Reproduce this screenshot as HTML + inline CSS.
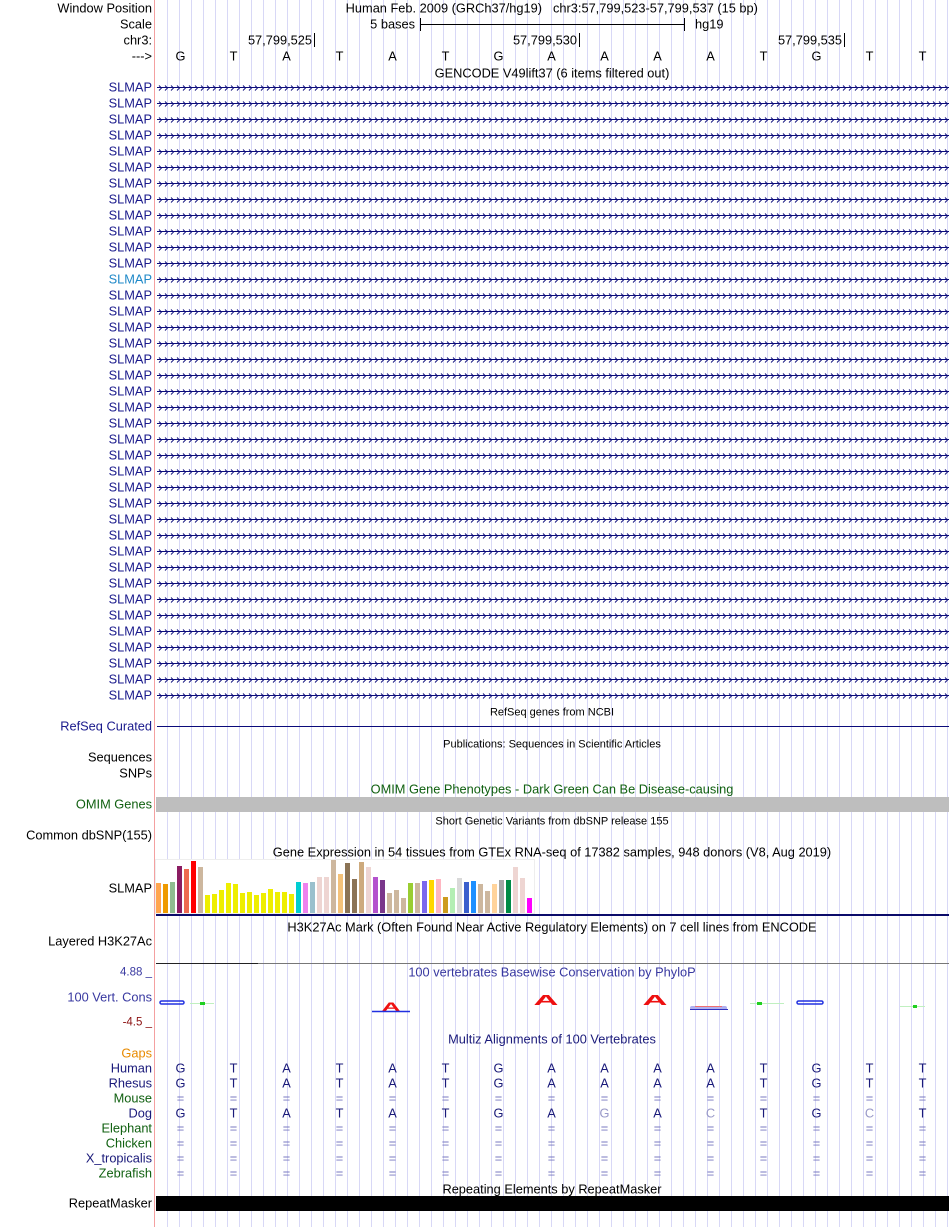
<!DOCTYPE html>
<html><head><meta charset="utf-8"><style>
html,body{margin:0;padding:0;background:#fff;}
svg{display:block;font-family:"Liberation Sans",sans-serif;}
</style></head><body>
<svg id="s" width="950" height="1227" viewBox="0 0 950 1227" xmlns="http://www.w3.org/2000/svg">
<defs>
<pattern id="chev" x="157" y="0" width="6" height="16" patternUnits="userSpaceOnUse">
<path d="M2,-2.5 L4.5,0 L2,2.5" fill="none" stroke="#0b0b7a" stroke-width="0.9" transform="translate(0,8)"/>
</pattern>
</defs>
<g id="grid"></g>
<line x1="154.5" y1="0" x2="154.5" y2="1227" stroke="#f4a0a0" stroke-width="1"/>
<g id="main"></g>
</svg>
<script>
const bases = ["G","T","A","T","A","T","G","A","A","A","A","T","G","T","T"];
const dogBases = ["G","T","A","T","A","T","G","A","G","A","C","T","G","C","T"];
const dogMismatch = [0,0,0,0,0,0,0,0,1,0,1,0,0,1,0];
const gtexValues = [30,29,31,47,44,52,46,18,19,23,30,29,20,21,18,20,24,21,21,19,31,30,31,36,36,53,39,50,34,51,46,36,33,20,23,15,30,30,32,33,34,16,25,35,31,32,29,22,29,33,33,46,35,15];
const gtexColors = ["#FFA54F","#EE9A00","#8FBC8F","#8B1C62","#EE6A50","#FF0000","#CDB79E","#EEEE00","#EEEE00","#EEEE00","#EEEE00","#EEEE00","#EEEE00","#EEEE00","#EEEE00","#EEEE00","#EEEE00","#EEEE00","#EEEE00","#EEEE00","#00CED1","#EE82EE","#9AC0CD","#EED5D2","#EED5D2","#CDB79E","#F4C27A","#8B7355","#8B7355","#CDAA7D","#EED5D2","#B452CD","#7A378B","#CDB79E","#CDB79E","#CDB79E","#9ACD32","#CDB79E","#7B68EE","#FFD700","#FFB6C1","#CD9B1D","#B4EEB4","#D9D9D9","#3A5FCD","#1E90FF","#CDB79E","#CDB79E","#FFD39B","#A6A6A6","#008B45","#EED5D2","#EED5D2","#FF00FF"];
const species = ["Gaps","Human","Rhesus","Mouse","Dog","Elephant","Chicken","X_tropicalis","Zebrafish"];
const speciesColors = ["#e88a00","#1a1a7a","#1a1a7a","#106010","#1a1a7a","#106010","#106010","#1a1a7a","#106010"];

const NS="http://www.w3.org/2000/svg";
const main=document.getElementById('main');
const grid=document.getElementById('grid');
const FS=12.8, FSS=11;
function el(tag,attrs,parent,txt){const e=document.createElementNS(NS,tag);for(const k in attrs)e.setAttribute(k,attrs[k]);if(txt!==undefined)e.textContent=txt;(parent||main).appendChild(e);return e;}
const X0=154, BW=(949-154)/15;
function bx(i){return X0+BW*(i+0.5);}
for(let x=167;x<950;x+=12){
  const l=el('line',{x1:x+0.5,y1:0,x2:x+0.5,y2:1227,stroke:'#d8d8f6','stroke-width':1},grid);
  
  
}
function label(txt,y,color,name,size){
  const t=el('text',{x:152,y:y+4.5,'text-anchor':'end','font-size':size||FS,fill:color||'#000'},main,txt);
  
  
  return t;
}
function ctext(txt,x,y,color,size,name,anchor){
  const t=el('text',{x:x,y:y+4.5,'text-anchor':anchor||'middle','font-size':size||FS,fill:color||'#000'},main,txt);
  
  
  return t;
}
label('Window Position',8,'#000','window-position-label');
label('Scale',24,'#000','scale-label');
label('chr3:',40,'#000','chrom-label');
label('--->',56,'#000','strand-label');
ctext('Human Feb. 2009 (GRCh37/hg19)',542,8,'#000',FS,'window-title','end');
ctext('chr3:57,799,523-57,799,537 (15 bp)',553,8,'#000',FS,'window-position','start');
ctext('5 bases',415,24,'#000',FS,'scale-text','end');
el('path',{d:'M420.5,18 V31 M420,24.5 H685 M684.5,18 V31',stroke:'#000',fill:'none'});
ctext('hg19',695,24,'#000',FS,'assembly-text','start');
[[312,'57,799,525'],[577,'57,799,530'],[842,'57,799,535']].forEach(p=>{
  ctext(p[1],p[0],40,'#000',FS,'position-tick-label','end');
  el('line',{x1:p[0]+2.5,y1:33,x2:p[0]+2.5,y2:47,stroke:'#000'});
});
bases.forEach((b,i)=>ctext(b,bx(i),56,'#000',FS,'base-letter'));
ctext('GENCODE V49lift37 (6 items filtered out)',552,73,'#000',FS,'gencode-title');
for(let r=0;r<39;r++){
  const y=87+r*16;
  label('SLMAP',y,r===12?'#1e88c8':'#1a1a8c','gene-label-slmap');
  const g=el('line',{x1:157,y1:y+0.5,x2:949,y2:y+0.5,stroke:'#0b0b7a','stroke-width':1});
  
  
  const c=el('rect',{x:157,y:y-8,width:792,height:16,fill:'url(#chev)'});
  
  
}
ctext('RefSeq genes from NCBI',552,711,'#000',FSS,'refseq-title');
label('RefSeq Curated',726,'#1a1a8c','refseq-label');
el('line',{x1:157,y1:726.5,x2:949,y2:726.5,stroke:'#0b0b7a'});
ctext('Publications: Sequences in Scientific Articles',552,743,'#000',FSS,'publications-title');
label('Sequences',757,'#000','sequences-label');
label('SNPs',773,'#000','snps-label');
ctext('OMIM Gene Phenotypes - Dark Green Can Be Disease-causing',552,789,'#106010',FS,'omim-title');
label('OMIM Genes',804,'#106010','omim-label');
el('rect',{x:156,y:797,width:793,height:15,fill:'#bebebe'});
ctext('Short Genetic Variants from dbSNP release 155',552,820,'#000',FSS,'dbsnp-title');
label('Common dbSNP(155)',835,'#000','dbsnp-label');
ctext('Gene Expression in 54 tissues from GTEx RNA-seq of 17382 samples, 948 donors (V8, Aug 2019)',552,852,'#000',FS,'gtex-title');
label('SLMAP',888,'#000','gtex-gene-label');
const gBase=913, gX0=156, gPitch=7.0, gScale=1.0;
el('rect',{x:155.5,y:859.5,width:379,height:54,fill:'#fff',stroke:'#eeeeee'});
function gy(v){return gBase-v*gScale;}
gtexValues.forEach((v,i)=>{
  const r=el('rect',{x:gX0+i*gPitch,y:gy(v),width:5,height:gBase-gy(v),fill:gtexColors[i]});
  
  
});
el('rect',{x:156,y:914,width:793,height:2,fill:'#0b0b6a'});
ctext('H3K27Ac Mark (Often Found Near Active Regulatory Elements) on 7 cell lines from ENCODE',552,927,'#000',FS,'h3k27ac-title');
label('Layered H3K27Ac',941,'#000','h3k27ac-label');
el('line',{x1:156,y1:963.5,x2:949,y2:963.5,stroke:'#777'});
el('line',{x1:156,y1:963.5,x2:258,y2:963.5,stroke:'#222'});
label('4.88 _',971,'#3838a0','phylop-max-label',FSS+0.5);
ctext('100 vertebrates Basewise Conservation by PhyloP',552,972,'#3838a0',FS,'phylop-title');
label('100 Vert. Cons',997,'#3838a0','phylop-label');
label('-4.5 _',1021,'#8b1010','phylop-min-label',FSS+0.5);
function blob(x,w,y,col,name){const r=el('rect',{x:x,y:y,width:w,height:3,rx:1.5,fill:'none',stroke:col,'stroke-width':1.5});}
blob(160,24,1001,'#2030e0','phylop-mark');
el('line',{x1:190,y1:1003.5,x2:214,y2:1003.5,stroke:'#c0f0c0'});
el('rect',{x:200,y:1002,width:5,height:3,fill:'#20d020'});
function bigA(x,y,fs,sx,name){const t=el('text',{x:x/sx,y:y,'text-anchor':'middle','font-size':fs,'font-weight':'bold',fill:'#ee1010',transform:'scale('+sx+',1)'},main,'A');}
bigA(391,1011,12,2.2,'phylop-logo-a');
el('line',{x1:372,y1:1011.5,x2:410,y2:1011.5,stroke:'#2030e0','stroke-width':1.5});
bigA(546,1005,15,2.3,'phylop-logo-a');
bigA(655,1005,15,2.3,'phylop-logo-a');
el('rect',{x:690,y:1006,width:37,height:4,rx:2,fill:'#b0b0ee'});
el('line',{x1:695,y1:1006.5,x2:722,y2:1006.5,stroke:'#f07070'});
el('line',{x1:690,y1:1009.5,x2:728,y2:1009.5,stroke:'#3030c0'});
el('line',{x1:750,y1:1003.5,x2:784,y2:1003.5,stroke:'#c0f0c0'});
el('rect',{x:757,y:1002,width:5,height:3,fill:'#20d020'});
blob(797,26,1001,'#2030e0','phylop-mark');
el('line',{x1:900,y1:1006.5,x2:925,y2:1006.5,stroke:'#c0f0c0'});
el('rect',{x:913,y:1005,width:4,height:3,fill:'#20d020'});
ctext('Multiz Alignments of 100 Vertebrates',552,1039,'#1a1a7a',FS,'multiz-title');
species.forEach((sp,k)=>{
  const y=1053+k*15;
  label(sp,y,speciesColors[k],'species-label-'+sp.toLowerCase());
  if(k===0) return;
  bases.forEach((b,i)=>{
    let txt='=',col='#7878c0';
    if(sp==='Human'||sp==='Rhesus'){txt=b;col='#1a1a7a';}
    if(sp==='Dog'){txt=dogBases[i];col=dogMismatch[i]?'#9898c8':'#1a1a7a';}
    ctext(txt,bx(i),y,col,FS,'alignment-base');
  });
});
ctext('Repeating Elements by RepeatMasker',552,1189,'#000',FS,'repeatmasker-title');
label('RepeatMasker',1203,'#000','repeatmasker-label');
el('rect',{x:156,y:1196,width:793,height:15,fill:'#000'});
</script>
</body></html>
